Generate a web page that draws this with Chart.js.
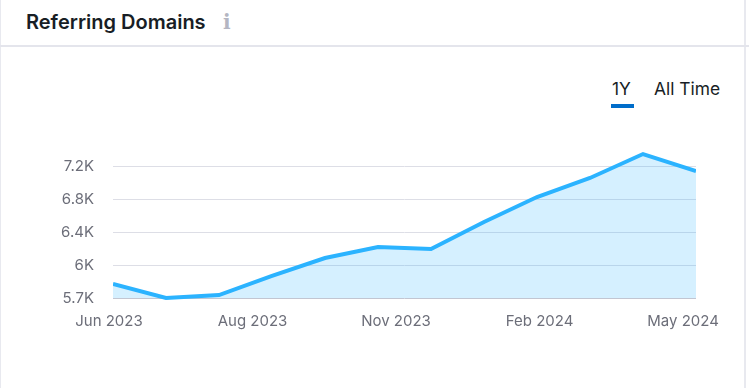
<!DOCTYPE html>
<html>
<head>
<meta charset="utf-8">
<script src="https://cdn.jsdelivr.net/npm/chart.js@4"></script>
<style>
html, body { margin: 0; padding: 0; background: #fff; overflow: hidden; }
body { width: 749px; height: 388px; position: relative; font-family: Inter, sans-serif; }
.card { position: absolute; left: 0; top: -6px; width: 746px; height: 410px; box-sizing: border-box; border: 1px solid #e8e9ef; border-right-width: 2px; border-radius: 6px; }
.head { position: absolute; left: 0; top: 0; width: 749px; height: 47px; box-sizing: border-box; border-bottom: 2px solid #e4e5ec; }
.title { position: absolute; left: 26px; top: 10px; font-size: 20px; line-height: 24px; font-weight: 600; color: #181e25; white-space: nowrap; }
.info { position: absolute; left: 223px; top: 10px; font: 700 20px/24px "DejaVu Serif", serif; color: #b4b6c2; }
.tab { position: absolute; top: 78px; font-size: 17.4px; line-height: 22px; color: #181e25; white-space: nowrap; }
.bar { position: absolute; left: 611px; top: 104px; width: 23px; height: 4px; background: #006dca; }
.wrap { position: absolute; left: 0; top: 90px; width: 749px; height: 250px; }
</style>
</head>
<body>
<div class="card"></div>
<div class="head"></div>
<div class="title">Referring Domains</div>
<div class="info">i</div>
<div class="tab" style="left:612px">1Y</div>
<div class="tab" style="left:654px">All Time</div>
<div class="bar"></div>
<div class="wrap"><canvas id="chart"></canvas></div>
<script>
const months = ['Jun 2023', 'Jul 2023', 'Aug 2023', 'Sep 2023', 'Oct 2023', 'Nov 2023', 'Dec 2023', 'Jan 2024', 'Feb 2024', 'Mar 2024', 'Apr 2024', 'May 2024'];
const referringDomains = [5770, 5600, 5636, 5867, 6085, 6218, 6194, 6521, 6824, 7055, 7345, 7139];
const yTicks = [5600, 6000, 6400, 6800, 7200];
const yTickLabels = ['5.7K', '6K', '6.4K', '6.8K', '7.2K'];
const xTickLabels = ['Jun 2023', 'Aug 2023', 'Nov 2023', 'Feb 2024', 'May 2024'];

const tickFont = { family: 'Inter', size: 15 };

new Chart(document.getElementById('chart'), {
    type: 'line',
    data: {
        labels: months,
        datasets: [{
            data: referringDomains,
            borderColor: '#2bb3ff',
            borderWidth: 4,
            backgroundColor: 'rgba(43,179,255,0.2)',
            fill: 'start',
            pointRadius: 0,
            tension: 0,
            borderJoinStyle: 'miter',
            clip: { left: 0, right: 0, top: 20, bottom: 20 }
        }]
    },
    options: {
        responsive: true,
        maintainAspectRatio: false,
        animation: false,
        layout: { padding: { left: 0, right: 53, top: 10, bottom: 0 } },
        plugins: { legend: { display: false }, tooltip: { enabled: false } },
        scales: {
            x: { display: false, offset: false },
            // date labels are spaced evenly, not on the month points
            xDates: {
                type: 'linear',
                position: 'bottom',
                min: 0.028,
                max: 4.09,
                afterBuildTicks: axis => { axis.ticks = xTickLabels.map((_, i) => ({ value: i })); },
                afterFit: axis => { axis.height = 42; },
                border: { display: false },
                grid: { display: false, drawTicks: false },
                ticks: {
                    autoSkip: false,
                    maxRotation: 0,
                    padding: 14,
                    color: '#6c6e79',
                    font: tickFont,
                    callback: value => xTickLabels[value]
                }
            },
            y: {
                min: 5600,
                max: 7782,
                afterBuildTicks: axis => { axis.ticks = yTicks.map(value => ({ value })); },
                afterFit: axis => { axis.width = 113; },
                border: { display: false },
                grid: {
                    drawTicks: false,
                    lineWidth: 1,
                    color: ctx => ctx.index === 0 ? '#c2c6d2' : '#dddee6'
                },
                ticks: {
                    padding: 19,
                    color: '#6c6e79',
                    font: tickFont,
                    callback: (value, i) => yTickLabels[i]
                }
            }
        }
    }
});
</script>
</body>
</html>
